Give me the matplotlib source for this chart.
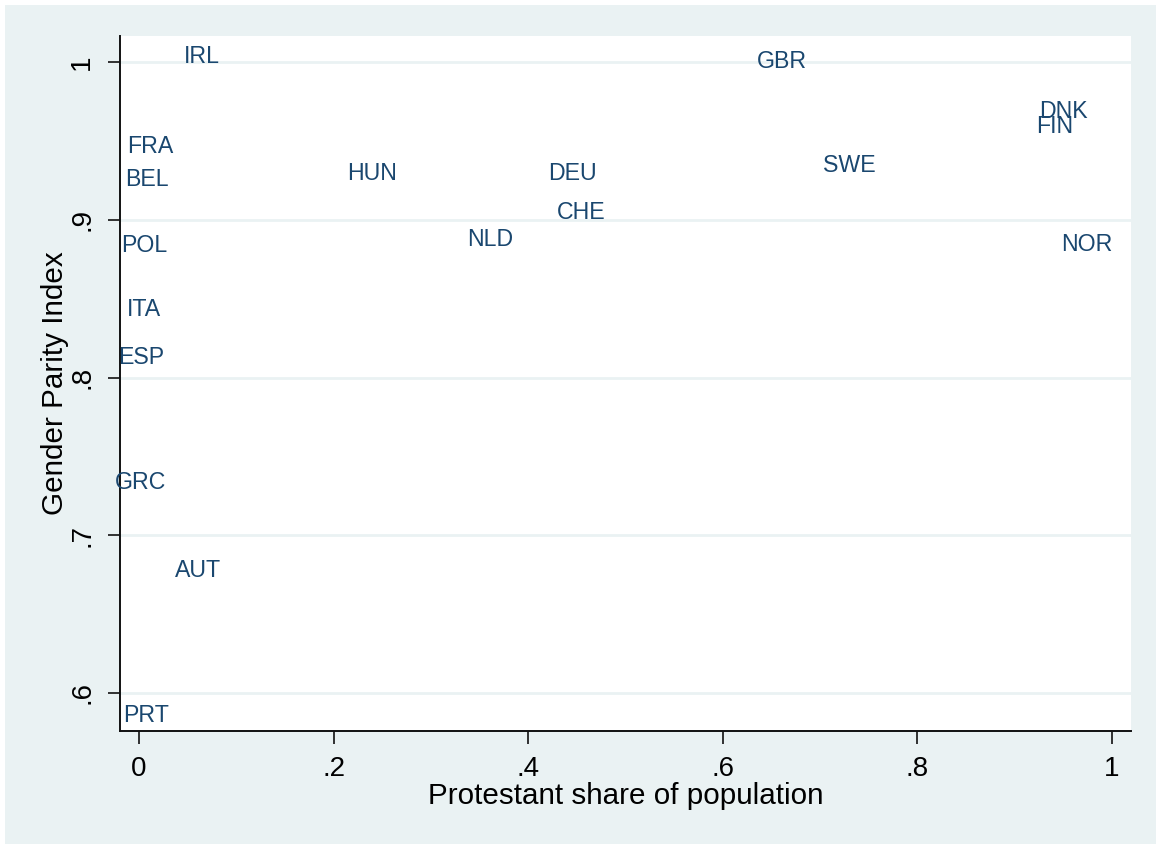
import matplotlib.pyplot as plt
from matplotlib.patches import Rectangle

# country codes and their (protestant share, gender parity index)
countries = ['IRL', 'GBR', 'DNK', 'FIN', 'FRA', 'BEL', 'HUN', 'DEU', 'SWE', 'CHE',
             'NLD', 'NOR', 'POL', 'ITA', 'ESP', 'GRC', 'AUT', 'PRT']
protestant = [0.065, 0.661, 0.950, 0.941, 0.012, 0.008, 0.240, 0.445, 0.730, 0.454,
              0.361, 0.974, 0.005, 0.005, 0.002, 0.002, 0.061, 0.007]
gpi = [1.005, 1.002, 0.970, 0.961, 0.948, 0.927, 0.931, 0.931, 0.936, 0.906,
       0.889, 0.886, 0.885, 0.845, 0.814, 0.735, 0.679, 0.587]

xticks = [0, 0.2, 0.4, 0.6, 0.8, 1.0]
xtick_labels = ['0', '.2', '.4', '.6', '.8', '1']
yticks = [0.6, 0.7, 0.8, 0.9, 1.0]
ytick_labels = ['.6', '.7', '.8', '.9', '1']

bg = '#EAF2F3'
lab_col = '#1a476f'

plt.rcParams['font.family'] = ['Liberation Sans', 'DejaVu Sans']

fig = plt.figure(figsize=(11.56, 8.44), dpi=100)
fig.patch.set_facecolor('white')
fig.patches.append(Rectangle((5 / 1156, 0), 1, 1 - 5 / 844, transform=fig.transFigure,
                             facecolor=bg, edgecolor='none', zorder=-10))

ax = fig.add_axes([120 / 1156, 1 - 731 / 844, 1011 / 1156, 695 / 844])
ax.set_facecolor('white')

for c, xv, yv in zip(countries, protestant, gpi):
    ax.text(xv, yv, c, color=lab_col, fontsize=16.7, ha='center', va='center_baseline')

ax.set_xlim(-0.0195, 1.0195)
ax.set_ylim(0.5759, 1.0165)

ax.set_xticks(xticks)
ax.set_xticklabels(xtick_labels)
ax.set_yticks(yticks)
ax.set_yticklabels(ytick_labels, rotation=90, va='center')
ax.tick_params(axis='both', direction='out', length=9, width=1.3, labelsize=20,
               color='#222222', pad=9)

ax.grid(axis='y', color=bg, linewidth=2)
ax.set_axisbelow(True)

for s in ['top', 'right']:
    ax.spines[s].set_visible(False)
for s in ['left', 'bottom']:
    ax.spines[s].set_linewidth(1.4)
    ax.spines[s].set_color('#111111')

ax.set_xlabel('Protestant share of population', fontsize=21.3)
ax.xaxis.label.set_va('center')
ax.xaxis.set_label_coords(0.5, -0.0935)
ax.set_ylabel('Gender Parity Index', fontsize=21.3)
ax.yaxis.label.set_va('center')
ax.yaxis.set_label_coords(-0.064, 0.5)

fig.savefig('out.png', dpi=100, facecolor=fig.get_facecolor())
